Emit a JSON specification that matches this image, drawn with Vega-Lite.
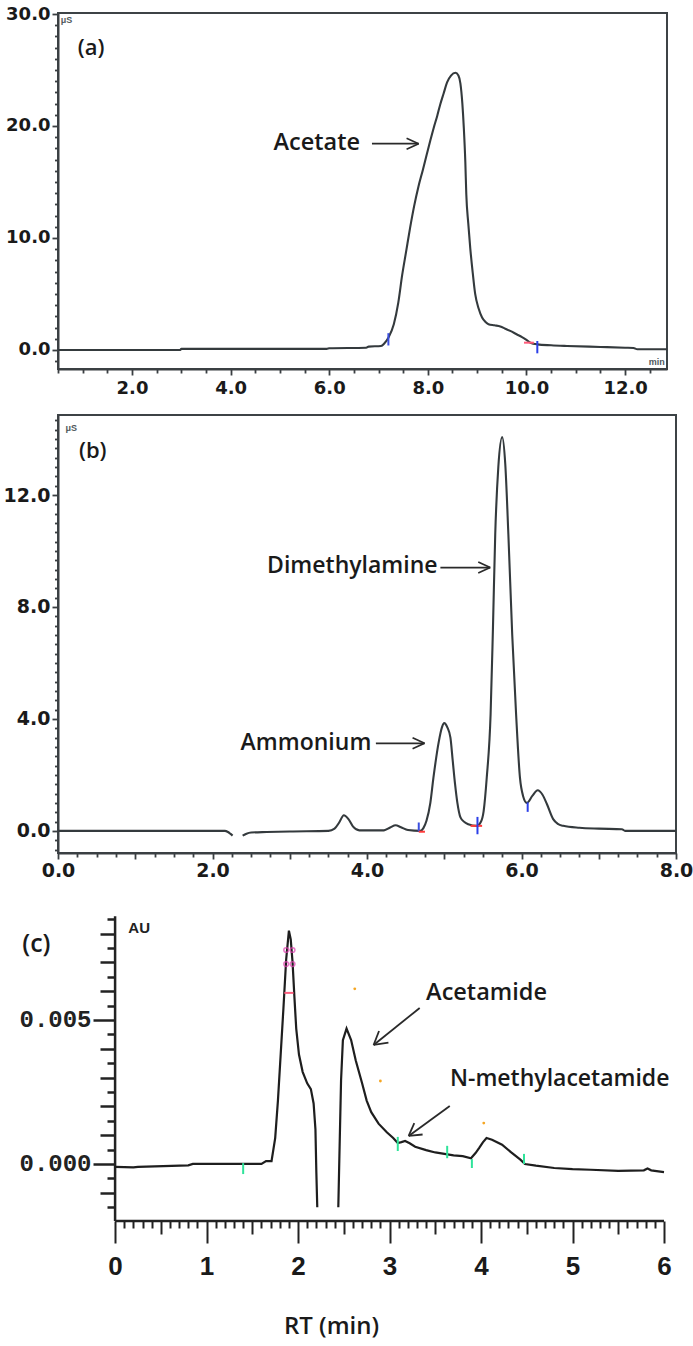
{
  "$schema": "https://vega.github.io/schema/vega-lite/v6.json",
  "background": "white",
  "padding": {"left": 2, "top": 4, "right": 0, "bottom": 10},
  "config": {"axis": {"grid": false, "labelFlush": false, "labelOverlap": false, "title": null}},
  "bounds": "flush",
  "spacing": 46,
  "datasets": {
    "curveA": [
      {"x":0.5,"y":0},{"x":2.98,"y":0},{"x":3.0,"y":0.1},{"x":5.95,"y":0.1},{"x":6.0,"y":0.15},{"x":6.75,"y":0.2},{"x":6.8,"y":0.3},{"x":7.05,"y":0.35},{"x":7.12,"y":0.6},{"x":7.2,"y":1.1},{"x":7.31,"y":2.3},{"x":7.4,"y":4.2},{"x":7.48,"y":6.7},{"x":7.56,"y":8.8},{"x":7.64,"y":10.9},{"x":7.72,"y":12.8},{"x":7.81,"y":14.6},{"x":7.9,"y":16.1},{"x":7.98,"y":17.5},{"x":8.05,"y":18.7},{"x":8.12,"y":19.85},{"x":8.19,"y":20.9},{"x":8.25,"y":21.9},{"x":8.32,"y":22.9},{"x":8.39,"y":23.9},{"x":8.47,"y":24.5},{"x":8.56,"y":24.75},{"x":8.62,"y":24.5},{"x":8.66,"y":23.8},{"x":8.7,"y":22.0},{"x":8.73,"y":19.8},{"x":8.76,"y":16.8},{"x":8.78,"y":13.9},{"x":8.82,"y":11.3},{"x":8.86,"y":9.1},{"x":8.91,"y":6.9},{"x":8.96,"y":5.0},{"x":9.03,"y":3.7},{"x":9.1,"y":2.9},{"x":9.17,"y":2.5},{"x":9.23,"y":2.3},{"x":9.35,"y":2.2},{"x":9.47,"y":2.1},{"x":9.57,"y":1.9},{"x":9.67,"y":1.7},{"x":9.8,"y":1.4},{"x":9.91,"y":1.15},{"x":10.0,"y":0.9},{"x":10.08,"y":0.65},{"x":10.22,"y":0.5},{"x":10.5,"y":0.42},{"x":10.82,"y":0.36},{"x":11.5,"y":0.27},{"x":12.0,"y":0.2},{"x":12.17,"y":0.18},{"x":12.25,"y":0.06},{"x":12.85,"y":0.06}
    ],
    "marksA": [
      {"x":7.2,"y":0.4,"x2":7.2,"y2":1.5,"c":"#3b4fe0"},
      {"x":10.22,"y":-0.3,"x2":10.22,"y2":0.8,"c":"#2b3fe8"},
      {"x":9.95,"y":0.65,"x2":10.15,"y2":0.65,"c":"#ff5c7a"}
    ],
    "arrowsA": [
      {"x":6.867,"y":18.42,"x2":7.813,"y2":18.42},
      {"x":7.569,"y":18.91,"x2":7.813,"y2":18.42},
      {"x":7.569,"y":17.93,"x2":7.813,"y2":18.42}
    ],
    "labelsA": [
      {"x":5.747,"y":18.48,"t":"Acetate","s":23.5},
      {"x":1.17,"y":26.96,"t":"(a)","s":22}
    ],
    "smallA": [
      {"x":0.67,"y":29.5,"t":"μS"},
      {"x":12.64,"y":-1.1,"t":"min"}
    ],
    "curveB": [
      {"x":0,"y":0,"seg":1},{"x":2.16,"y":0,"seg":1},{"x":2.2,"y":-0.04,"seg":1},{"x":2.23,"y":-0.1,"seg":1},{"x":2.26,"y":-0.17,"seg":1},
      {"x":2.39,"y":-0.17,"seg":2},{"x":2.44,"y":-0.1,"seg":2},{"x":2.5,"y":-0.06,"seg":2},{"x":2.7,"y":-0.04,"seg":2},{"x":3.0,"y":-0.02,"seg":2},{"x":3.5,"y":0,"seg":2},{"x":3.58,"y":0.08,"seg":2},{"x":3.64,"y":0.3,"seg":2},{"x":3.7,"y":0.56,"seg":2},{"x":3.76,"y":0.42,"seg":2},{"x":3.82,"y":0.15,"seg":2},{"x":3.9,"y":0.02,"seg":2},{"x":4.22,"y":0.02,"seg":2},{"x":4.3,"y":0.12,"seg":2},{"x":4.37,"y":0.2,"seg":2},{"x":4.44,"y":0.13,"seg":2},{"x":4.53,"y":0.03,"seg":2},{"x":4.69,"y":0,"seg":2},{"x":4.73,"y":0.1,"seg":2},{"x":4.77,"y":0.36,"seg":2},{"x":4.82,"y":1.0,"seg":2},{"x":4.86,"y":1.9,"seg":2},{"x":4.93,"y":3.2,"seg":2},{"x":4.97,"y":3.7,"seg":2},{"x":5.0,"y":3.85,"seg":2},{"x":5.04,"y":3.7,"seg":2},{"x":5.08,"y":3.33,"seg":2},{"x":5.11,"y":2.5,"seg":2},{"x":5.14,"y":1.67,"seg":2},{"x":5.17,"y":1.0,"seg":2},{"x":5.21,"y":0.48,"seg":2},{"x":5.26,"y":0.32,"seg":2},{"x":5.31,"y":0.24,"seg":2},{"x":5.42,"y":0.18,"seg":2},{"x":5.47,"y":0.3,"seg":2},{"x":5.51,"y":0.71,"seg":2},{"x":5.55,"y":1.9,"seg":2},{"x":5.6,"y":4.17,"seg":2},{"x":5.63,"y":7.2,"seg":2},{"x":5.66,"y":10.6,"seg":2},{"x":5.7,"y":13.0,"seg":2},{"x":5.75,"y":14.07,"seg":2},{"x":5.79,"y":13.1,"seg":2},{"x":5.83,"y":10.6,"seg":2},{"x":5.88,"y":7.0,"seg":2},{"x":5.93,"y":4.17,"seg":2},{"x":5.98,"y":1.9,"seg":2},{"x":6.02,"y":1.25,"seg":2},{"x":6.07,"y":1.0,"seg":2},{"x":6.14,"y":1.25,"seg":2},{"x":6.21,"y":1.45,"seg":2},{"x":6.27,"y":1.3,"seg":2},{"x":6.33,"y":0.95,"seg":2},{"x":6.41,"y":0.42,"seg":2},{"x":6.47,"y":0.25,"seg":2},{"x":6.54,"y":0.18,"seg":2},{"x":6.75,"y":0.11,"seg":2},{"x":7.0,"y":0.08,"seg":2},{"x":7.3,"y":0.06,"seg":2},{"x":7.34,"y":0,"seg":2},{"x":8,"y":0,"seg":2}
    ],
    "marksB": [
      {"x":4.67,"y":-0.02,"x2":4.67,"y2":0.3,"c":"#3b4fe0"},
      {"x":4.67,"y":-0.03,"x2":4.75,"y2":-0.03,"c":"#ff3b3b"},
      {"x":5.34,"y":0.18,"x2":5.49,"y2":0.18,"c":"#ff3b3b"},
      {"x":5.43,"y":-0.12,"x2":5.43,"y2":0.5,"c":"#2b3fe8"},
      {"x":6.08,"y":0.68,"x2":6.08,"y2":1.02,"c":"#2b3fe8"}
    ],
    "arrowsB": [
      {"x":4.95,"y":9.41,"x2":5.595,"y2":9.41},
      {"x":5.44,"y":9.606,"x2":5.595,"y2":9.41},
      {"x":5.44,"y":9.214,"x2":5.595,"y2":9.41},
      {"x":4.115,"y":3.13,"x2":4.745,"y2":3.13},
      {"x":4.59,"y":3.326,"x2":4.745,"y2":3.13},
      {"x":4.59,"y":2.934,"x2":4.745,"y2":3.13}
    ],
    "labelsB": [
      {"x":3.81,"y":9.46,"t":"Dimethylamine","s":23},
      {"x":3.21,"y":3.15,"t":"Ammonium","s":23},
      {"x":0.45,"y":13.57,"t":"(b)","s":22}
    ],
    "smallB": [
      {"x":0.17,"y":14.39,"t":"μS"}
    ],
    "curveC": [
      {"x":0.0,"y":-0.0001,"seg":1},{"x":0.2,"y":-0.00012,"seg":1},{"x":0.25,"y":-0.0001,"seg":1},{"x":0.8,"y":-0.00005,"seg":1},{"x":0.85,"y":0.0,"seg":1},{"x":1.6,"y":0.0,"seg":1},{"x":1.65,"y":0.0001,"seg":1},{"x":1.71,"y":0.0001,"seg":1},{"x":1.75,"y":0.0009,"seg":1},{"x":1.78,"y":0.0022,"seg":1},{"x":1.81,"y":0.0038,"seg":1},{"x":1.84,"y":0.0054,"seg":1},{"x":1.87,"y":0.0071,"seg":1},{"x":1.9,"y":0.0081,"seg":1},{"x":1.92,"y":0.0078,"seg":1},{"x":1.94,"y":0.007,"seg":1},{"x":1.96,"y":0.0058,"seg":1},{"x":1.98,"y":0.0047,"seg":1},{"x":2.01,"y":0.0038,"seg":1},{"x":2.05,"y":0.0032,"seg":1},{"x":2.1,"y":0.0028,"seg":1},{"x":2.14,"y":0.0026,"seg":1},{"x":2.17,"y":0.0021,"seg":1},{"x":2.19,"y":0.0012,"seg":1},{"x":2.2,"y":-0.0003,"seg":1},{"x":2.21,"y":-0.0015,"seg":1},
      {"x":2.44,"y":-0.0015,"seg":2},{"x":2.45,"y":0.0,"seg":2},{"x":2.47,"y":0.0029,"seg":2},{"x":2.49,"y":0.0043,"seg":2},{"x":2.53,"y":0.0047,"seg":2},{"x":2.58,"y":0.0043,"seg":2},{"x":2.63,"y":0.0036,"seg":2},{"x":2.7,"y":0.0028,"seg":2},{"x":2.75,"y":0.0022,"seg":2},{"x":2.8,"y":0.0018,"seg":2},{"x":2.88,"y":0.0014,"seg":2},{"x":2.97,"y":0.0011,"seg":2},{"x":3.04,"y":0.0009,"seg":2},{"x":3.09,"y":0.00073,"seg":2},{"x":3.13,"y":0.00076,"seg":2},{"x":3.17,"y":0.0008,"seg":2},{"x":3.22,"y":0.00072,"seg":2},{"x":3.28,"y":0.0006,"seg":2},{"x":3.4,"y":0.00048,"seg":2},{"x":3.5,"y":0.0004,"seg":2},{"x":3.6,"y":0.00035,"seg":2},{"x":3.7,"y":0.0003,"seg":2},{"x":3.8,"y":0.00027,"seg":2},{"x":3.89,"y":0.0002,"seg":2},{"x":3.94,"y":0.00038,"seg":2},{"x":3.98,"y":0.00056,"seg":2},{"x":4.02,"y":0.00075,"seg":2},{"x":4.06,"y":0.0009,"seg":2},{"x":4.12,"y":0.00084,"seg":2},{"x":4.23,"y":0.00067,"seg":2},{"x":4.33,"y":0.0004,"seg":2},{"x":4.43,"y":0.00015,"seg":2},{"x":4.48,"y":0.0,"seg":2},{"x":4.6,"y":-0.00006,"seg":2},{"x":4.8,"y":-0.00014,"seg":2},{"x":5.0,"y":-0.00018,"seg":2},{"x":5.2,"y":-0.0002,"seg":2},{"x":5.5,"y":-0.00024,"seg":2},{"x":5.78,"y":-0.00022,"seg":2},{"x":5.82,"y":-0.00016,"seg":2},{"x":5.86,"y":-0.00022,"seg":2},{"x":6.0,"y":-0.00028,"seg":2}
    ],
    "axesC": [
      {"x":0,"y":-0.00198,"x2":6,"y2":-0.00198},
      {"x":0,"y":-0.00198,"x2":0,"y2":0.0086}
    ],
    "marksC": [
      {"x":1.4,"y":-0.00035,"x2":1.4,"y2":0.00003,"c":"#2fe39a"},
      {"x":3.09,"y":0.00045,"x2":3.09,"y2":0.00094,"c":"#2fe39a"},
      {"x":3.63,"y":0.0002,"x2":3.63,"y2":0.00063,"c":"#2fe39a"},
      {"x":3.9,"y":-0.00014,"x2":3.9,"y2":0.00017,"c":"#2fe39a"},
      {"x":4.47,"y":0.0,"x2":4.47,"y2":0.00035,"c":"#2fe39a"},
      {"x":1.85,"y":0.00594,"x2":1.95,"y2":0.00594,"c":"#ff6080"}
    ],
    "circlesC": [
      {"x":1.87,"y":0.00743,"c":"#e040b0"},
      {"x":1.87,"y":0.00694,"c":"#e040b0"},
      {"x":1.94,"y":0.00743,"c":"#e040b0"},
      {"x":1.94,"y":0.00694,"c":"#e040b0"}
    ],
    "dotsC": [
      {"x":2.62,"y":0.00608},{"x":2.9,"y":0.00288},{"x":4.03,"y":0.00142}
    ],
    "arrowsC": [
      {"x":3.3297,"y":0.005417,"x2":2.8258,"y2":0.004132},
      {"x":2.988,"y":0.004212,"x2":2.8258,"y2":0.004132},
      {"x":2.885,"y":0.004618,"x2":2.8258,"y2":0.004132},
      {"x":3.6583,"y":0.002014,"x2":3.2092,"y2":0.000972},
      {"x":3.3614,"y":0.001024,"x2":3.2092,"y2":0.000972},
      {"x":3.2705,"y":0.001417,"x2":3.2092,"y2":0.000972}
    ],
    "labelsC": [
      {"x":4.06,"y":0.00594,"t":"Acetamide","s":23.5},
      {"x":4.86,"y":0.00295,"t":"N-methylacetamide","s":23},
      {"x":-0.86,"y":0.00764,"t":"(c)","s":25},
      {"x":2.366,"y":-0.00566,"t":"RT (min)","s":24}
    ],
    "smallC": [
      {"x":0.263,"y":0.0082,"t":"AU"}
    ]
  },
  "vconcat": [
    {
      "width": 609,
      "height": 356,
      "view": {"stroke": "#3d4346", "strokeWidth": 2},
      "encoding": {
        "x": {
          "field": "x", "type": "quantitative",
          "scale": {"domain": [0.5, 12.85], "nice": false, "zero": false},
          "axis": {
            "title": null,
            "values": [0.5,1,1.5,2,2.5,3,3.5,4,4.5,5,5.5,6,6.5,7,7.5,8,8.5,9,9.5,10,10.5,11,11.5,12,12.5],
            "labelExpr": "datum.value % 2 == 0 ? format(datum.value, '.1f') : ''",
            "tickSize": {"condition": {"test": "datum.value % 2 == 0", "value": 6}, "value": 4},
            "tickWidth": 1.8, "tickColor": "#3a3f42", "domainColor": "#3a3f42", "domainWidth": 2,
            "labelFont": "DejaVu Sans", "labelFontWeight": "bold", "labelFontSize": 18, "labelColor": "#1a1a1a", "labelPadding": 4
          }
        },
        "y": {
          "field": "y", "type": "quantitative",
          "scale": {"domain": [-1.7, 30.09], "nice": false, "zero": false},
          "axis": {
            "title": null,
            "values": [-1,0,1,2,3,4,5,6,7,8,9,10,11,12,13,14,15,16,17,18,19,20,21,22,23,24,25,26,27,28,29,30],
            "labelExpr": "datum.value % 10 == 0 ? format(datum.value, '.1f') : ''",
            "tickSize": {"condition": {"test": "datum.value % 10 == 0", "value": 6}, "value": 3.5},
            "tickWidth": 1.8, "tickColor": "#3a3f42", "domainColor": "#3a3f42", "domainWidth": 2,
            "labelFont": "DejaVu Sans", "labelFontWeight": "bold", "labelFontSize": 18, "labelColor": "#1a1a1a", "labelPadding": 2
          }
        }
      },
      "layer": [
        {"data": {"name": "curveA"}, "mark": {"type": "line", "color": "#343a3d", "strokeWidth": 2.1, "interpolate": "monotone"}},
        {"data": {"name": "marksA"}, "mark": {"type": "rule", "strokeWidth": 2}, "encoding": {"x2": {"field": "x2"}, "y2": {"field": "y2"}, "color": {"field": "c", "type": "nominal", "scale": null}}},
        {"data": {"name": "arrowsA"}, "mark": {"type": "rule", "strokeWidth": 1.7, "color": "#2a2a2a"}, "encoding": {"x2": {"field": "x2"}, "y2": {"field": "y2"}}},
        {"data": {"name": "labelsA"}, "mark": {"type": "text", "font": "Open Sans", "fontWeight": 600, "color": "#1a1a1a"}, "encoding": {"text": {"field": "t"}, "size": {"field": "s", "type": "quantitative", "scale": null}}},
        {"data": {"name": "smallA"}, "mark": {"type": "text", "font": "Liberation Sans", "fontSize": 9, "fontWeight": "bold", "color": "#50585c"}, "encoding": {"text": {"field": "t"}}}
      ]
    },
    {
      "width": 618,
      "height": 438,
      "view": {"stroke": "#3d4346", "strokeWidth": 2},
      "encoding": {
        "x": {
          "field": "x", "type": "quantitative",
          "scale": {"domain": [0, 8], "nice": false, "zero": false},
          "axis": {
            "title": null,
            "values": [0,0.25,0.5,0.75,1,1.25,1.5,1.75,2,2.25,2.5,2.75,3,3.25,3.5,3.75,4,4.25,4.5,4.75,5,5.25,5.5,5.75,6,6.25,6.5,6.75,7,7.25,7.5,7.75,8],
            "labelExpr": "datum.value % 2 == 0 ? format(datum.value, '.1f') : ''",
            "tickSize": {"condition": {"test": "datum.value % 1 == 0", "value": 6}, "value": 4},
            "tickWidth": 1.8, "tickColor": "#3a3f42", "domainColor": "#3a3f42", "domainWidth": 2,
            "labelFont": "DejaVu Sans", "labelFontWeight": "bold", "labelFontSize": 19, "labelColor": "#1a1a1a", "labelPadding": 2
          }
        },
        "y": {
          "field": "y", "type": "quantitative",
          "scale": {"domain": [-0.79, 14.86], "nice": false, "zero": false},
          "axis": {
            "title": null,
            "values": [-0.6667,-0.3333,0,0.3333,0.6667,1,1.3333,1.6667,2,2.3333,2.6667,3,3.3333,3.6667,4,4.3333,4.6667,5,5.3333,5.6667,6,6.3333,6.6667,7,7.3333,7.6667,8,8.3333,8.6667,9,9.3333,9.6667,10,10.3333,10.6667,11,11.3333,11.6667,12,12.3333,12.6667,13,13.3333,13.6667,14,14.3333,14.6667],
            "labelExpr": "abs(datum.value / 4 - round(datum.value / 4)) < 0.001 ? format(datum.value, '.1f') : ''",
            "tickSize": {"condition": {"test": "abs(datum.value / 4 - round(datum.value / 4)) < 0.001", "value": 6}, "value": 3.5},
            "tickWidth": 1.8, "tickColor": "#3a3f42", "domainColor": "#3a3f42", "domainWidth": 2,
            "labelFont": "DejaVu Sans", "labelFontWeight": "bold", "labelFontSize": 19, "labelColor": "#1a1a1a", "labelPadding": 2
          }
        }
      },
      "layer": [
        {"data": {"name": "curveB"}, "mark": {"type": "line", "color": "#343a3d", "strokeWidth": 2.1, "interpolate": "monotone"}, "encoding": {"detail": {"field": "seg", "type": "nominal"}}},
        {"data": {"name": "marksB"}, "mark": {"type": "rule", "strokeWidth": 2}, "encoding": {"x2": {"field": "x2"}, "y2": {"field": "y2"}, "color": {"field": "c", "type": "nominal", "scale": null}}},
        {"data": {"name": "arrowsB"}, "mark": {"type": "rule", "strokeWidth": 1.7, "color": "#2a2a2a"}, "encoding": {"x2": {"field": "x2"}, "y2": {"field": "y2"}}},
        {"data": {"name": "labelsB"}, "mark": {"type": "text", "font": "Open Sans", "fontWeight": 600, "color": "#1a1a1a"}, "encoding": {"text": {"field": "t"}, "size": {"field": "s", "type": "quantitative", "scale": null}}},
        {"data": {"name": "smallB"}, "mark": {"type": "text", "font": "Liberation Sans", "fontSize": 9, "fontWeight": "bold", "color": "#50585c"}, "encoding": {"text": {"field": "t"}}}
      ]
    },
    {
      "width": 606,
      "height": 322,
      "view": {"stroke": null},
      "encoding": {
        "x": {
          "field": "x", "type": "quantitative",
          "scale": {"domain": [-0.624, 6], "nice": false, "zero": false},
          "axis": {
            "title": null, "domain": false,
            "values": [0,0.1,0.2,0.3,0.4,0.5,0.6,0.7,0.8,0.9,1,1.1,1.2,1.3,1.4,1.5,1.6,1.7,1.8,1.9,2,2.1,2.2,2.3,2.4,2.5,2.6,2.7,2.8,2.9,3,3.1,3.2,3.3,3.4,3.5,3.6,3.7,3.8,3.9,4,4.1,4.2,4.3,4.4,4.5,4.6,4.7,4.8,4.9,5,5.1,5.2,5.3,5.4,5.5,5.6,5.7,5.8,5.9,6],
            "labelExpr": "abs(datum.value - round(datum.value)) < 0.001 ? format(datum.value, '.0f') : ''",
            "tickSize": {"condition": [
              {"test": "abs(datum.value - round(datum.value)) < 0.001", "value": 22},
              {"test": "abs(datum.value * 2 - round(datum.value * 2)) < 0.001", "value": 13}
            ], "value": 7},
            "tickWidth": 2, "tickColor": "#222222",
            "labelFont": "Liberation Sans Narrow, Liberation Sans", "labelFontWeight": "bold", "labelFontSize": 26, "labelColor": "#1a1a1a", "labelPadding": 10
          }
        },
        "y": {
          "field": "y", "type": "quantitative",
          "scale": {"domain": [-0.00198, 0.0092], "nice": false, "zero": false},
          "axis": {
            "title": null, "domain": false, "offset": -57,
            "values": [-0.002,-0.0015,-0.001,-0.0005,0,0.0005,0.001,0.0015,0.002,0.0025,0.003,0.0035,0.004,0.0045,0.005,0.0055,0.006,0.0065,0.007,0.0075,0.008,0.0085],
            "labelExpr": "abs(datum.value * 200 - round(datum.value * 200)) < 0.01 ? format(datum.value, '.3f') : ''",
            "tickSize": {"condition": [
              {"test": "abs(datum.value * 200 - round(datum.value * 200)) < 0.01", "value": 22},
              {"test": "abs(datum.value * 1000 - round(datum.value * 1000)) < 0.01", "value": 15}
            ], "value": 8},
            "tickWidth": 2.5, "tickColor": "#222222",
            "labelFont": "Liberation Mono", "labelFontWeight": "bold", "labelFontSize": 24, "labelColor": "#222222", "labelPadding": 2
          }
        }
      },
      "layer": [
        {"data": {"name": "axesC"}, "mark": {"type": "rule", "strokeWidth": 2.5, "color": "#222222"}, "encoding": {"x2": {"field": "x2"}, "y2": {"field": "y2"}}},
        {"data": {"name": "curveC"}, "mark": {"type": "line", "color": "#1e1e1e", "strokeWidth": 2.2, "interpolate": "linear"}, "encoding": {"detail": {"field": "seg", "type": "nominal"}}},
        {"data": {"name": "marksC"}, "mark": {"type": "rule", "strokeWidth": 2}, "encoding": {"x2": {"field": "x2"}, "y2": {"field": "y2"}, "color": {"field": "c", "type": "nominal", "scale": null}}},
        {"data": {"name": "circlesC"}, "mark": {"type": "point", "filled": false, "size": 22, "strokeWidth": 1.5}, "encoding": {"color": {"field": "c", "type": "nominal", "scale": null}}},
        {"data": {"name": "dotsC"}, "mark": {"type": "circle", "size": 8, "color": "#f5a623", "opacity": 1}},
        {"data": {"name": "arrowsC"}, "mark": {"type": "rule", "strokeWidth": 1.8, "color": "#2a2a2a"}, "encoding": {"x2": {"field": "x2"}, "y2": {"field": "y2"}}},
        {"data": {"name": "labelsC"}, "mark": {"type": "text", "font": "Open Sans", "fontWeight": 600, "color": "#1a1a1a"}, "encoding": {"text": {"field": "t"}, "size": {"field": "s", "type": "quantitative", "scale": null}}},
        {"data": {"name": "smallC"}, "mark": {"type": "text", "font": "Liberation Sans", "fontSize": 15, "fontWeight": "bold", "color": "#222222"}, "encoding": {"text": {"field": "t"}}}
      ]
    }
  ]
}
